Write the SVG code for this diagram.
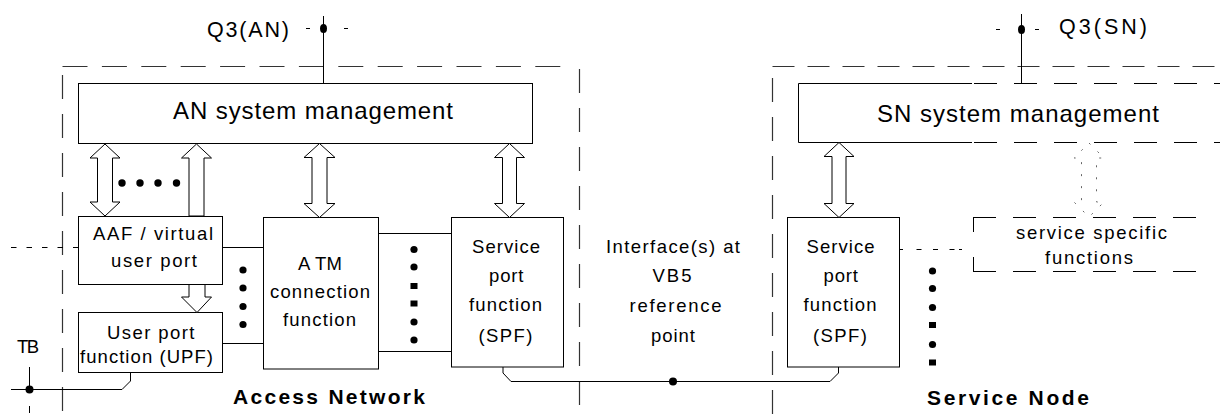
<svg xmlns="http://www.w3.org/2000/svg" width="1220" height="418" viewBox="0 0 1220 418">
<style>
text{font-family:"Liberation Sans",Arial,sans-serif;fill:#000;font-size:18.5px}
.mg{font-size:24px}
.q3{font-size:21.5px}
.bold{font-weight:bold;font-size:21px}
.box{fill:#fff;stroke:#000;stroke-width:1}
.bnd{fill:none;stroke:#333;stroke-width:1.2;stroke-dasharray:24 15}
.ln{fill:none;stroke:#000;stroke-width:1}
.dot{fill:none;stroke:#000;stroke-width:1;stroke-dasharray:5.5 10}
.dash{fill:none;stroke:#000;stroke-width:1;stroke-dasharray:23 17}
.arr{fill:#fff;stroke:#000;stroke-width:1}
.darr{fill:none;stroke:#666;stroke-width:1;stroke-dasharray:2 10}
.pt{fill:#000}
</style>

<g id="an-boundary">
<path class="bnd" d="M62.5 66.5H567" style="stroke-dasharray:25 14.4"/>
<path class="bnd" d="M62.5 75V418"/>
<path class="bnd" d="M579.5 69V418"/>
</g>

<g id="sn-boundary">
<path class="bnd" d="M772.5 66.5H1220" style="stroke-dasharray:22 13"/>
<path class="bnd" d="M772.5 78V418"/>
</g>

<g id="q3-an">
<text class="q3" x="207" y="37" textLength="82" lengthAdjust="spacing">Q3(AN)</text>
</g>
<g id="q3-sn">
<text class="q3" x="1059" y="34" textLength="88" lengthAdjust="spacing">Q3(SN)</text>
</g>

<g id="an-mgmt">
<rect class="box" x="78.5" y="83.5" width="454" height="60"/>
<text class="mg" x="173" y="119" textLength="280" lengthAdjust="spacing">AN system management</text>
</g>

<g id="sn-mgmt">
<path class="ln" d="M972 83.5H798.5V142.5H972"/>
<path class="dash" d="M974 83.5H1220M974 142.5H1220"/>
<text class="mg" x="877" y="122" textLength="282" lengthAdjust="spacing">SN system management</text>
</g>

<g id="aaf">
<rect class="box" x="78.5" y="216.5" width="144" height="68"/>
<text x="93" y="240" textLength="120" lengthAdjust="spacing">AAF / virtual</text>
<text x="111" y="266.5" textLength="86" lengthAdjust="spacing">user port</text>
</g>

<g id="upf">
<rect class="box" x="78.5" y="312.5" width="144" height="60"/>
<text x="107" y="338.5" textLength="87.5" lengthAdjust="spacing">User port</text>
<text x="80" y="363" textLength="133" lengthAdjust="spacing">function (UPF)</text>
</g>

<g id="atm">
<rect class="box" x="263.5" y="217.5" width="115" height="151.5"/>
<text x="298" y="269.5" textLength="44" lengthAdjust="spacing">A TM</text>
<text x="270" y="298" textLength="100" lengthAdjust="spacing">connection</text>
<text x="283" y="326" textLength="73" lengthAdjust="spacing">function</text>
</g>

<g id="spf-an">
<rect class="box" x="451.5" y="217.5" width="112" height="149.5"/>
<text x="472" y="253" textLength="68" lengthAdjust="spacing">Service</text>
<text x="489" y="282" textLength="34.5" lengthAdjust="spacing">port</text>
<text x="469" y="311" textLength="73" lengthAdjust="spacing">function</text>
<text x="478.5" y="341.5" textLength="54" lengthAdjust="spacing">(SPF)</text>
</g>

<g id="vb5-label">
<text x="606" y="253" textLength="134" lengthAdjust="spacing">Interface(s) at</text>
<text x="673" y="282" text-anchor="middle" letter-spacing="2">VB5</text>
<text x="629.5" y="312" textLength="92" lengthAdjust="spacing">reference</text>
<text x="651" y="341.5" textLength="44" lengthAdjust="spacing">point</text>
</g>

<g id="spf-sn">
<rect class="box" x="787.5" y="217.5" width="112" height="149.5"/>
<text x="806.5" y="253" textLength="68" lengthAdjust="spacing">Service</text>
<text x="823.5" y="282" textLength="34.5" lengthAdjust="spacing">port</text>
<text x="803.5" y="311" textLength="73" lengthAdjust="spacing">function</text>
<text x="813" y="341.5" textLength="54" lengthAdjust="spacing">(SPF)</text>
</g>

<g id="ssf">
<path class="dash" d="M973 217.5H1200M973 271.5H1200"/>
<path class="ln" d="M973.5 218V232M973.5 257V271.5"/>
<text x="1016" y="239" textLength="151" lengthAdjust="spacing">service specific</text>
<text x="1045" y="264" textLength="88" lengthAdjust="spacing">functions</text>
</g>

<g id="tb">
<text x="17" y="353" textLength="22" lengthAdjust="spacing">TB</text>
</g>

<g id="titles">
<text class="bold" x="233" y="404" textLength="192" lengthAdjust="spacing">Access Network</text>
<text class="bold" x="927" y="405" textLength="162" lengthAdjust="spacing">Service Node</text>
</g>

<g id="connectors">
<path class="ln" d="M323.5 16V83.5M306 28.5H310M344 28.5H348"/>
<ellipse class="pt" cx="323.5" cy="28.5" rx="3.5" ry="4.5"/>
<path class="ln" d="M1021.5 14V83.5M996 29.5H1000M1035 29.5H1039"/>
<ellipse class="pt" cx="1021.5" cy="29.5" rx="3.5" ry="4.5"/>

<polygon class="arr" points="105,144 120,158 112.5,158 112.5,202 120,202 105,216 90,202 97.5,202 97.5,158 90,158"/>
<polygon class="arr" points="196.5,144 211.5,158 204,158 204,216 189,216 189,158 181.5,158"/>
<polygon class="arr" points="319.5,143.5 335,157.5 327,157.5 327,203.5 335,203.5 319.5,217.5 304,203.5 312,203.5 312,157.5 304,157.5"/>
<polygon class="arr" points="509.5,143.5 524.5,157.5 516.5,157.5 516.5,203.5 524.5,203.5 509.5,217.5 494.5,203.5 502.5,203.5 502.5,157.5 494.5,157.5"/>
<polygon class="arr" points="839,142.5 854,156.5 846,156.5 846,203.5 854,203.5 839,217.5 824,203.5 832,203.5 832,156.5 824,156.5"/>
<polygon class="darr" points="1089,143 1104,158 1096.5,158 1096.5,202 1104,202 1089,217 1074,202 1081.5,202 1081.5,158 1074,158"/>
<polygon class="arr" points="189,284.5 205,284.5 205,297 211.5,297 197,312.5 181.5,297 189,297"/>

<g class="pt">
<circle cx="122" cy="183" r="3.7"/><circle cx="140" cy="183" r="3.7"/><circle cx="158" cy="183" r="3.7"/><circle cx="176.5" cy="183" r="3.7"/>
<circle cx="243" cy="270" r="3.6"/><circle cx="243" cy="288" r="3.6"/><circle cx="243" cy="306.5" r="3.6"/><circle cx="243" cy="324.5" r="3.6"/>
<circle cx="414" cy="249.5" r="3.6"/><circle cx="414" cy="267" r="3.6"/><rect x="410.5" y="283" width="7" height="6"/><rect x="410.5" y="300.5" width="7" height="6"/><circle cx="414" cy="322" r="3.6"/><circle cx="414" cy="340" r="3.6"/>
<circle cx="932.5" cy="271" r="3.6"/><circle cx="932.5" cy="288.5" r="3.6"/><circle cx="932.5" cy="307.5" r="3.6"/><rect x="929" y="322" width="7" height="6"/><circle cx="932.5" cy="344.5" r="3.6"/><rect x="929" y="359.5" width="7" height="6"/>
</g>

<path class="ln" d="M222.5 247.5H263.5M222.5 343.5H263.5M378.5 233.5H451.5M378.5 351.5H451.5"/>
<path class="dot" d="M11 247.5H78"/>
<path class="ln" d="M899.5 249.5H903M916.5 249.5H921.5M933 249.5H938M949.5 249.5H954.5M959 249.5H962"/>

<path class="ln" d="M11 389.5H122L130.5 381V372.5"/>
<path class="ln" d="M29.5 367V389.5M29.5 406V413"/>
<circle class="pt" cx="29.5" cy="389.5" r="4"/>

<path class="ln" d="M503 367V373L511 381.5H830L838.5 373V367"/>
<circle class="pt" cx="673" cy="381.5" r="4"/>
</g>
</svg>
